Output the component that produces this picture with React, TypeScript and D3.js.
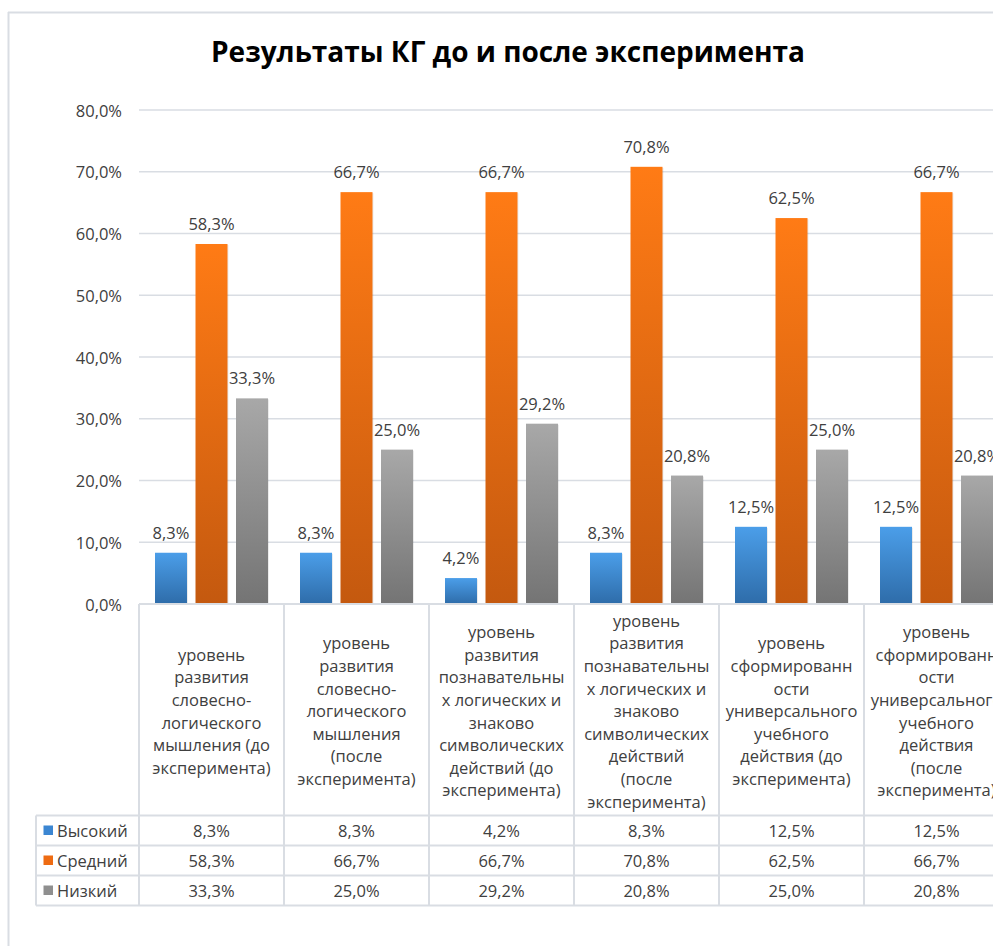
import React from "react";
import * as d3 from "d3";

const title = "Результаты КГ до и после эксперимента";

const categoryLines: string[][] = [
  ["уровень", "развития", "словесно-", "логического", "мышления (до", "эксперимента)"],
  ["уровень", "развития", "словесно-", "логического", "мышления", "(после", "эксперимента)"],
  ["уровень", "развития", "познавательны", "х логических и", "знаково", "символических", "действий (до", "эксперимента)"],
  ["уровень", "развития", "познавательны", "х логических и", "знаково", "символических", "действий", "(после", "эксперимента)"],
  ["уровень", "сформированн", "ости", "универсального", "учебного", "действия (до", "эксперимента)"],
  ["уровень", "сформированн", "ости", "универсального", "учебного", "действия", "(после", "эксперимента)"],
];
const categories = categoryLines.map((l) => l.join(" "));

const seriesNames = ["Высокий", "Средний", "Низкий"];
const high = [8.3, 8.3, 4.2, 8.3, 12.5, 12.5];
const medium = [58.3, 66.7, 66.7, 70.8, 62.5, 66.7];
const low = [33.3, 25.0, 29.2, 20.8, 25.0, 20.8];
const seriesValues = [high, medium, low];

const yTicks = [0, 10, 20, 30, 40, 50, 60, 70, 80];

const gradTop = ["#4b9ee9", "#ff7b15", "#a8a8a8"];
const gradBottom = ["#2e6ca9", "#c4590f", "#747474"];
const keyColors = ["#3b86d2", "#ee6b12", "#8f8f8f"];

const fmt = (v: number) => v.toFixed(1).replace(".", ",") + "%";

const W = 993;
const H = 946;
const FONT = "'Open Sans', 'Noto Sans', sans-serif";
const TEXT = "#404040";
const LINE = "#d9dde3";

export default function App() {
  const plotLeft = 139;
  const plotRight = 1009;
  const y = d3.scaleLinear().domain([0, 80]).range([604, 110]);
  const x = d3.scaleBand<string>().domain(categories).range([plotLeft, plotRight]).padding(0);
  const bw = x.bandwidth();
  const inner = d3
    .scaleBand<string>()
    .domain(seriesNames)
    .range([16, bw - 16])
    .paddingInner(0.21)
    .paddingOuter(0);

  const catTop = 604;
  const catBottom = 815.5;
  const rowH = 30;
  const tableBottom = catBottom + rowH * 3;
  const legendLeft = 36;
  const lineH = 22.6;

  return (
    <svg
      width={W}
      height={H}
      style={{ position: "absolute", left: 0, top: 0, background: "#fff" }}
      fontFamily={FONT}
    >
      <defs>
        {seriesNames.map((s, i) => (
          <linearGradient key={s} id={`g${i}`} x1="0" y1="0" x2="0" y2="1">
            <stop offset="0" stopColor={gradTop[i]} />
            <stop offset="1" stopColor={gradBottom[i]} />
          </linearGradient>
        ))}
      </defs>
      <rect x={0} y={0} width={W} height={H} fill="#fff" />
      {/* outer chart frame */}
      <line x1={8} x2={W} y1={12.5} y2={12.5} stroke={LINE} strokeWidth={2} />
      <line x1={8.5} x2={8.5} y1={12} y2={H} stroke={LINE} strokeWidth={2} />

      <text
        x={508}
        y={62}
        textAnchor="middle"
        fontSize={28}
        fontWeight={700}
        fill="#000"
      >
        {title}
      </text>

      {/* gridlines and y labels */}
      {yTicks.map((t) => (
        <g key={t}>
          {t > 0 && (
            <line x1={plotLeft} x2={W} y1={y(t)} y2={y(t)} stroke={LINE} strokeWidth={1.5} />
          )}
          <text
            x={122}
            y={y(t)}
            textAnchor="end"
            dominantBaseline="central"
            fontSize={16.5}
            fill={TEXT}
          >
            {fmt(t)}
          </text>
        </g>
      ))}

      {/* bars */}
      {categories.map((c, ci) =>
        seriesNames.map((s, si) => {
          const v = seriesValues[si][ci];
          const bx = (x(c) as number) + (inner(s) as number);
          const by = y(v);
          return (
            <g key={c + s}>
              <rect
                x={bx + 1}
                y={by + 1}
                width={inner.bandwidth()}
                height={y(0) - by}
                fill="#000"
                opacity={0.08}
              />
              <rect
                x={bx}
                y={by}
                width={inner.bandwidth()}
                height={y(0) - by}
                fill={`url(#g${si})`}
              />
              <text
                x={bx + inner.bandwidth() / 2}
                y={by - 14}
                textAnchor="middle"
                fontSize={16.5}
                fill={TEXT}
              >
                {fmt(v)}
              </text>
            </g>
          );
        })
      )}

      {/* axis line / table top */}
      <line x1={plotLeft} x2={W} y1={604} y2={604} stroke={LINE} strokeWidth={2} />

      {/* data table */}
      {categories.map((c, ci) => {
        const x0 = x(c) as number;
        const cx = x0 + bw / 2;
        const lines = categoryLines[ci];
        const midY = (catTop + catBottom) / 2 + 1;
        const startY = midY - ((lines.length - 1) * lineH) / 2;
        return (
          <g key={c}>
            {lines.map((ln, li) => (
              <text
                key={li}
                x={cx}
                y={startY + li * lineH}
                textAnchor="middle"
                dominantBaseline="central"
                fontSize={16.5}
                fill={TEXT}
              >
                {ln}
              </text>
            ))}
            {seriesNames.map((s, si) => (
              <text
                key={s}
                x={cx}
                y={catBottom + rowH * si + rowH / 2}
                textAnchor="middle"
                dominantBaseline="central"
                fontSize={16.5}
                fill={TEXT}
              >
                {fmt(seriesValues[si][ci])}
              </text>
            ))}
          </g>
        );
      })}

      {/* table grid lines */}
      {categories.map((c) => (
        <line
          key={"v" + c}
          x1={x(c) as number}
          x2={x(c) as number}
          y1={catTop}
          y2={tableBottom}
          stroke={LINE}
          strokeWidth={2}
        />
      ))}
      <line x1={plotRight} x2={plotRight} y1={catTop} y2={tableBottom} stroke={LINE} strokeWidth={2} />
      <line x1={legendLeft} x2={legendLeft} y1={catBottom} y2={tableBottom} stroke={LINE} strokeWidth={2} />
      {[0, 1, 2, 3].map((r) => (
        <line
          key={"h" + r}
          x1={legendLeft}
          x2={W}
          y1={catBottom + r * rowH}
          y2={catBottom + r * rowH}
          stroke={LINE}
          strokeWidth={2}
        />
      ))}

      {/* legend keys */}
      {seriesNames.map((s, si) => {
        const cy = catBottom + rowH * si + rowH / 2;
        return (
          <g key={"k" + s}>
            <rect x={43.5} y={cy - 5} width={9.5} height={9.5} fill={keyColors[si]} />
            <text
              x={57}
              y={cy}
              dominantBaseline="central"
              fontSize={16.5}
              fill={TEXT}
            >
              {s}
            </text>
          </g>
        );
      })}
    </svg>
  );
}
